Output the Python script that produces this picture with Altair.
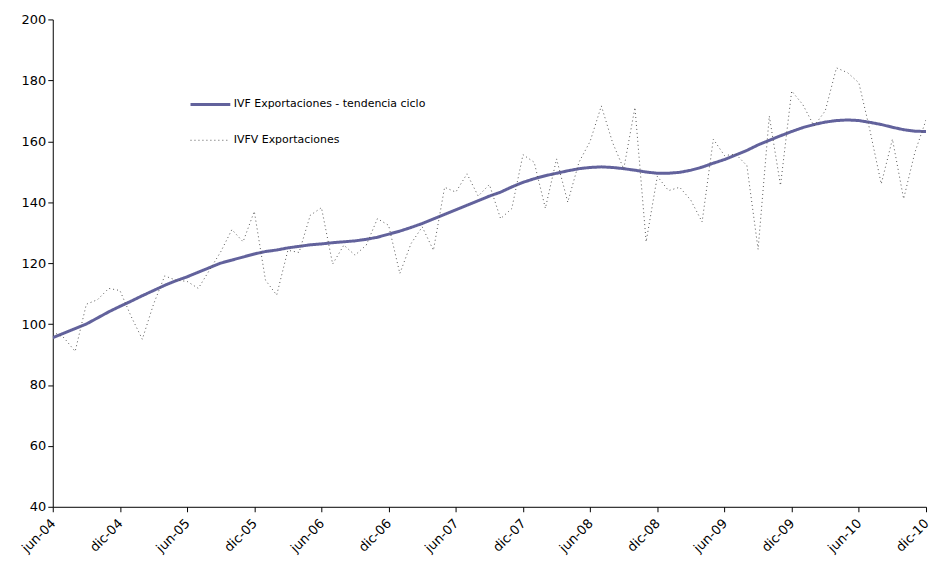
import altair as alt
import pandas as pd

tick_labels = ["jun-04", "dic-04", "jun-05", "dic-05", "jun-06", "dic-06", "jun-07",
               "dic-07", "jun-08", "dic-08", "jun-09", "dic-09", "jun-10", "dic-10"]

trend_name = "IVF Exportaciones - tendencia ciclo"
raw_name = "IVFV Exportaciones"

trend = [95.5, 97, 98.5, 100, 102, 104, 105.8, 107.5, 109.3, 111, 112.7, 114.2,
         115.5, 117, 118.5, 120, 121, 122, 123, 123.8, 124.3, 125, 125.5, 126,
         126.3, 126.7, 127, 127.3, 127.8, 128.5, 129.5, 130.5, 131.7, 133, 134.5, 136,
         137.5, 139, 140.5, 142, 143.3, 145, 146.5, 147.7, 148.7, 149.5, 150.3, 151,
         151.4, 151.6, 151.4, 151, 150.5, 149.9, 149.5, 149.5, 149.8, 150.5, 151.5, 152.8,
         154, 155.5, 157, 158.8, 160.3, 161.8, 163.2, 164.5, 165.5, 166.3, 166.8, 167,
         166.8, 166.2, 165.5, 164.6, 163.8, 163.3, 163.2]

raw = [97.5, 95.5, 91, 106.5, 108, 111.7, 111, 102.5, 95, 106.5, 115.8, 114.4,
       114, 111.7, 117.7, 123.7, 131, 127, 137, 114.4, 109.5, 124.2, 123.5, 135.7,
       138.2, 119.7, 125.9, 122.6, 125.9, 134.6, 132.4, 116.6, 126.4, 131.9, 124.2, 144.9,
       143.3, 149.3, 142, 145.8, 134.6, 137.9, 155.6, 153.1, 138, 154.2, 140, 153.1,
       160, 171.6, 159.6, 150.9, 171.1, 127, 148.5, 143.8, 144.9, 140.6, 133.5, 160.7,
       155.3, 155.8, 152, 124.5, 168.3, 145.5, 176.5, 172, 165, 170, 184.1, 182.5,
       179.2, 163.4, 146, 160.7, 141.1, 156.3, 167]

rows = []
for i, v in enumerate(trend):
    rows.append({"m": i, "v": v, "serie": trend_name})
for i, v in enumerate(raw):
    rows.append({"m": i, "v": v, "serie": raw_name})
df = pd.DataFrame(rows)

label_arr = "[" + ",".join("'%s'" % t for t in tick_labels) + "]"

chart = alt.Chart(df).mark_line(clip=True).encode(
    x=alt.X("m:Q",
            scale=alt.Scale(domain=[0, 78], nice=False, zero=False),
            axis=alt.Axis(values=list(range(0, 79, 6)), labelExpr=label_arr + "[round(datum.value/6)]",
                          title=None, grid=False, labelAngle=315, labelFontSize=13,
                          labelFont="DejaVu Sans", labelColor="#000", domainColor="#000",
                          tickColor="#000", tickSize=5, labelPadding=5, labelOffset=-4,
                          labelOverlap=False, labelBound=False, labelFlush=False)),
    y=alt.Y("v:Q",
            scale=alt.Scale(domain=[40, 200], nice=False, zero=False),
            axis=alt.Axis(values=list(range(40, 201, 20)), title=None, grid=False,
                          labelFontSize=13, labelFont="DejaVu Sans", labelColor="#000",
                          domainColor="#000", tickColor="#000", tickSize=5, labelPadding=2)),
    color=alt.Color("serie:N",
                    scale=alt.Scale(domain=[trend_name, raw_name], range=["#62629c", "#555555"]),
                    legend=alt.Legend(title=None, orient="none", legendX=137, legendY=64,
                                      symbolType="stroke", symbolSize=1600, symbolStrokeWidth=3,
                                      labelFont="DejaVu Sans", labelFontSize=11, labelColor="#000",
                                      labelLimit=0, rowPadding=9, labelOffset=2)),
    strokeDash=alt.StrokeDash("serie:N",
                              scale=alt.Scale(domain=[trend_name, raw_name], range=[[1, 0], [1, 3]]),
                              legend=None),
    strokeWidth=alt.StrokeWidth("serie:N",
                                scale=alt.Scale(domain=[trend_name, raw_name], range=[3, 1]),
                                legend=None),
    order=alt.Order("m:Q"),
).properties(
    width=878, height=490,
    autosize=alt.AutoSizeParams(type="none"),
    padding={"left": 45, "top": 10, "right": 6, "bottom": 51},
).configure_view(stroke=None)

chart.save("out.html", embed_options={"renderer": "svg", "actions": False})
